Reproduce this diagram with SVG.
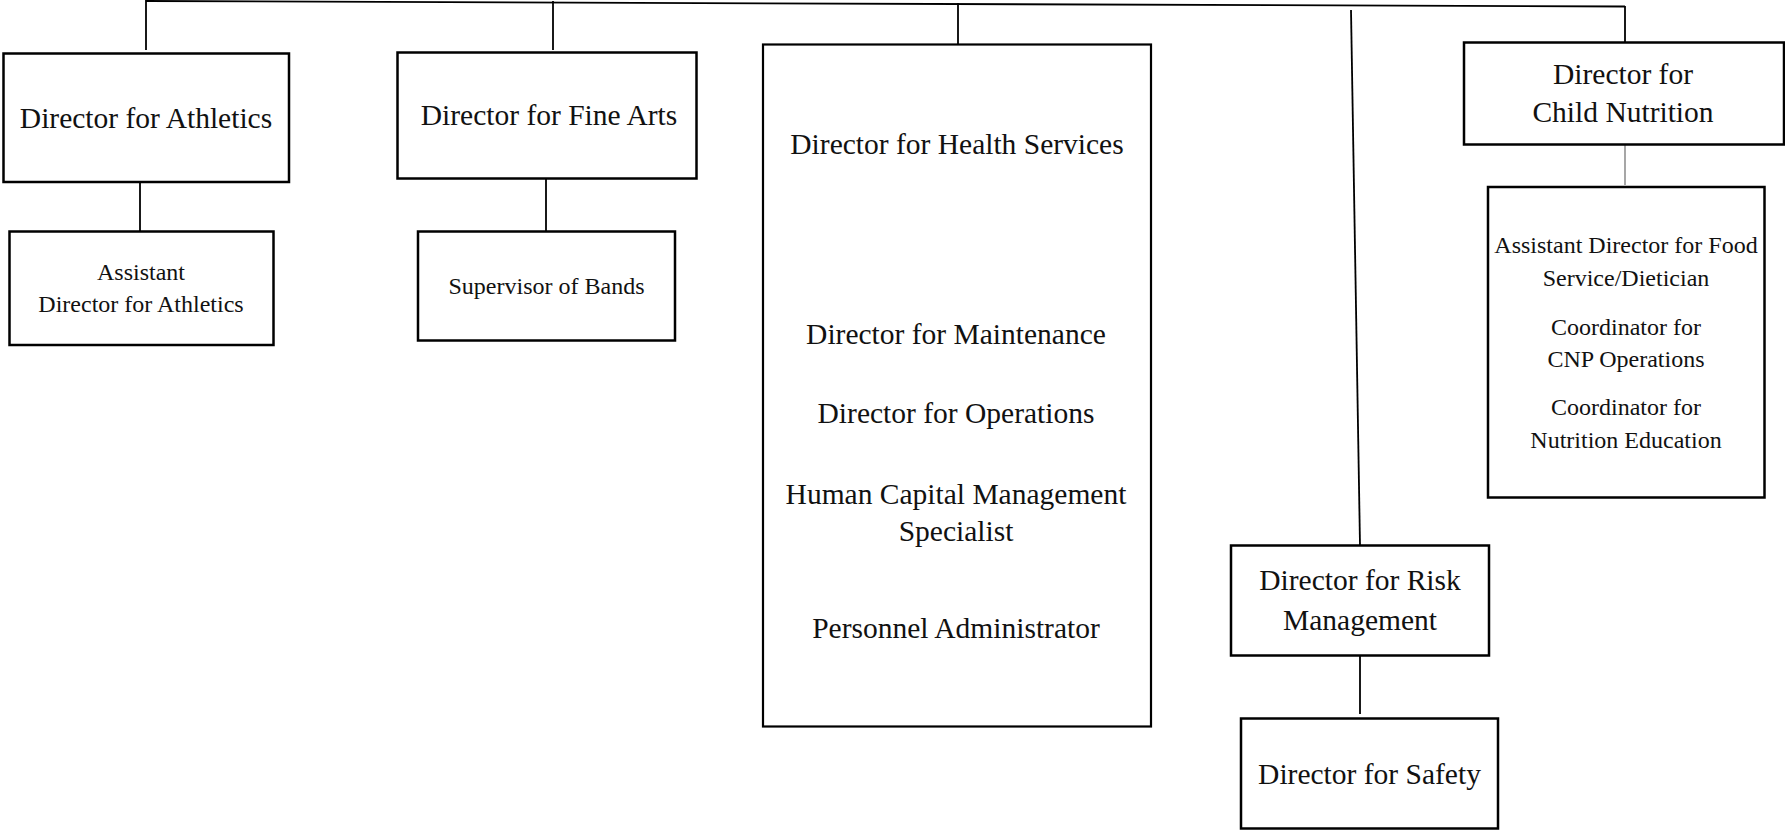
<svg xmlns="http://www.w3.org/2000/svg" width="1785" height="830" viewBox="0 0 1785 830">
<style>
.box{fill:#fff;stroke:#000;stroke-width:2.5}
.ln{stroke:#000;stroke-width:1.8;fill:none}
.big{font-family:"Liberation Serif",serif;font-size:29.5px;text-anchor:middle;fill:#111}
.sm{font-family:"Liberation Serif",serif;font-size:24px;text-anchor:middle;fill:#111}
</style>
<rect width="1785" height="830" fill="#fff"/>
<g id="connectors">
<line class="ln" x1="146" y1="1" x2="1625" y2="6.5"/>
<line class="ln" x1="146" y1="0" x2="146" y2="50"/>
<line class="ln" x1="140" y1="180" x2="140" y2="231"/>
<line class="ln" x1="553" y1="1" x2="553" y2="50"/>
<line class="ln" x1="546" y1="179" x2="546" y2="231"/>
<line class="ln" x1="958" y1="3" x2="958" y2="45"/>
<line class="ln" x1="1351" y1="10" x2="1360" y2="545"/>
<line class="ln" x1="1360" y1="656" x2="1360" y2="714"/>
<line class="ln" x1="1625" y1="6" x2="1625" y2="42"/>
<line x1="1625" y1="145" x2="1625" y2="185" stroke="#777" stroke-width="1.3"/>
</g>
<g id="athletics">
<rect class="box" x="3.5" y="53.5" width="285.5" height="128.5"/>
<text class="big" x="146" y="128">Director for Athletics</text>
</g>
<g id="asst-athletics">
<rect class="box" x="9.5" y="231.5" width="264" height="113.5"/>
<text class="sm" x="141" y="280">Assistant</text>
<text class="sm" x="141" y="312">Director for Athletics</text>
</g>
<g id="fine-arts">
<rect class="box" x="397.5" y="52.5" width="299" height="126"/>
<text class="big" x="549" y="124.5">Director for Fine Arts</text>
</g>
<g id="bands">
<rect class="box" x="418" y="231.5" width="257" height="109"/>
<text class="sm" x="546.5" y="294">Supervisor of Bands</text>
</g>
<g id="health">
<rect class="box" x="763" y="44.5" width="388" height="682" style="stroke-width:2.2"/>
<text class="big" x="957" y="154">Director for Health Services</text>
<text class="big" x="956" y="344">Director for Maintenance</text>
<text class="big" x="956" y="423">Director for Operations</text>
<text class="big" x="956" y="503.5">Human Capital Management</text>
<text class="big" x="956" y="541">Specialist</text>
<text class="big" x="956" y="638">Personnel Administrator</text>
</g>
<g id="risk">
<rect class="box" x="1231" y="545.5" width="258" height="110"/>
<text class="big" x="1360" y="590">Director for Risk</text>
<text class="big" x="1360" y="630">Management</text>
</g>
<g id="safety">
<rect class="box" x="1241" y="718.5" width="257" height="110"/>
<text class="big" x="1369.5" y="783.5">Director for Safety</text>
</g>
<g id="child-nutrition">
<rect class="box" x="1464" y="42.5" width="320" height="102"/>
<text class="big" x="1623" y="83.5">Director for</text>
<text class="big" x="1623" y="122">Child Nutrition</text>
</g>
<g id="cnp-staff">
<rect class="box" x="1488" y="187" width="276.5" height="310.5"/>
<text class="sm" x="1626" y="253">Assistant Director for Food</text>
<text class="sm" x="1626" y="286">Service/Dietician</text>
<text class="sm" x="1626" y="335">Coordinator for</text>
<text class="sm" x="1626" y="367">CNP Operations</text>
<text class="sm" x="1626" y="414.5">Coordinator for</text>
<text class="sm" x="1626" y="447.5">Nutrition Education</text>
</g>
</svg>
